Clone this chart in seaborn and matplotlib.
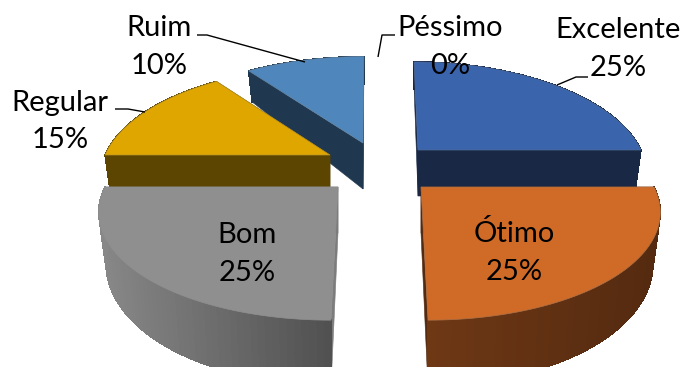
import numpy as np
import matplotlib
matplotlib.use("Agg")
import matplotlib.pyplot as plt
import matplotlib.colors as mc
import seaborn as sns

# --- data ---
categories = ["Excelente", "Ótimo", "Bom", "Regular", "Ruim", "Péssimo"]
shares = [25, 25, 25, 15, 10, 0]

# --- styles and layout ---
top_colors = ["#3a64ac", "#d06b27", "#8f8f8f", "#e0a600", "#4f86bb", "#7a9a3a"]
wall_colors = ["#182845", "#542a10", "#7c7c7c", "#5c4500", "#20384f", "#3a4a1a"]
wall_left = ["#182845", "#6e3815", "#888888", "#5c4500", "#20384f", "#3a4a1a"]
wall_right = ["#182845", "#542a10", "#505050", "#5c4500", "#20384f", "#3a4a1a"]
apex_x = [418, 421, 338, 330, 363, 380]
apex_y = [150, 187, 187, 155, 143, 143]
radius_x = [223, 233, 233, 225, 228, 225]
radius_y = [106, 106, 106, 106, 104, 106]
skew = [0.045, 0.053, -0.053, 0.0, -0.01, 0.0]
draw_order = [4, 0, 3, 1, 2]
name_pos = [(618, 30), (514, 233), (247, 235), (60, 103), (159, 28), (450, 28)]
pct_pos = [(618, 68), (514, 272), (247, 273), (60, 140), (159, 66), (450, 66)]
leaders = [
    [(557, 85), (576, 77), (588, 77)],
    [(305, 62), (207, 35), (197, 35)],
    [(145, 112), (128, 109), (115, 109)],
    [(378, 57), (382, 35), (395, 35)],
]
PERSPECTIVE = 0.204
DEPTH = 46
SHRINK = 0.97

sns.set_theme(style="white")
plt.rcParams["font.family"] = ["Lato", "DejaVu Sans"]
top_palette = sns.color_palette(top_colors)
wall_palette = sns.color_palette(wall_colors)

fig, ax = plt.subplots(figsize=(6.81, 3.67), dpi=100)
ax.set_position([0, 0, 1, 1])
ax.set_xlim(0, 681)
ax.set_ylim(367, 0)
ax.axis("off")


def top_pt(i, theta):
    """Projected point of the top face rim for angle(s) theta (radians)."""
    u, v = np.cos(theta), np.sin(theta)
    w = 1 + PERSPECTIVE * v
    dy = -radius_y[i] * v / w
    dx = radius_x[i] * u / w + skew[i] * dy
    return apex_x[i] + dx, apex_y[i] + dy


def bottom_pt(i, theta):
    x, y = top_pt(i, theta)
    v = np.sin(theta)
    return apex_x[i] + (x - apex_x[i]) * SHRINK, y + DEPTH * (1 - 0.4 * v)


def quad(xs, ys, color, z, aa=True):
    ax.fill(xs, ys, facecolor=color, edgecolor=color, linewidth=0.4, zorder=z, antialiased=aa)


edges = 90 - 3.6 * np.concatenate([[0], np.cumsum(shares)])
for z, i in enumerate(draw_order):
    a0, a1 = np.radians(edges[i]), np.radians(edges[i + 1])
    base = z * 10
    # cut faces of the slice
    for a in (a0, a1):
        rx, ry = top_pt(i, a)
        bx, by = bottom_pt(i, a)
        quad([apex_x[i], rx, bx, apex_x[i]],
             [apex_y[i], ry, by, apex_y[i] + DEPTH],
             wall_palette[i], base + 1)
    # outer wall, shaded across its width
    n = 60
    th = np.linspace(a0, a1, n + 1)
    tx, ty = top_pt(i, th)
    bx, by = bottom_pt(i, th)
    c_l = np.array(mc.to_rgb(wall_left[i]))
    c_r = np.array(mc.to_rgb(wall_right[i]))
    xmin, xmax = tx.min(), tx.max()
    for k in range(n):
        t = ((tx[k] + tx[k + 1]) / 2 - xmin) / max(xmax - xmin, 1)
        quad([tx[k], tx[k + 1], bx[k + 1], bx[k]],
             [ty[k], ty[k + 1], by[k + 1], by[k]],
             tuple(c_l + (c_r - c_l) * t), base + 2, aa=False)
    # top face
    px = np.concatenate([[apex_x[i]], tx])
    py = np.concatenate([[apex_y[i]], ty])
    ax.fill(px, py, facecolor=top_palette[i],
            edgecolor=sns.desaturate(top_palette[i], 0.6), linewidth=0.5, zorder=base + 3)

for pts in leaders:
    xs, ys = zip(*pts)
    ax.plot(xs, ys, color="black", linewidth=1.0, zorder=200, solid_capstyle="butt")

for i, name in enumerate(categories):
    ax.text(*name_pos[i], name, ha="center", va="center", fontsize=21, color="black", zorder=201)
    ax.text(*pct_pos[i], f"{shares[i]}%", ha="center", va="center", fontsize=21, color="black", zorder=201)

fig.savefig("out.png", dpi=100)
